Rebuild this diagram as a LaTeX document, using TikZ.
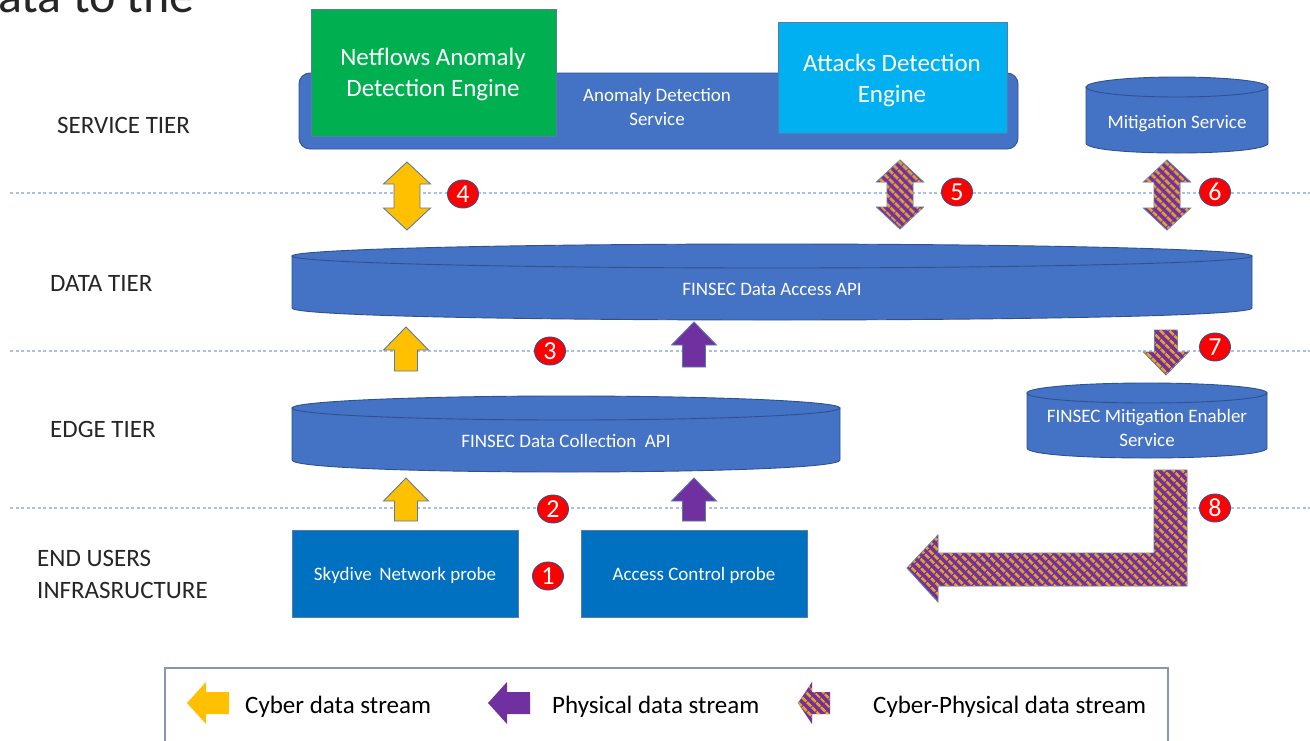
\documentclass[tikz,border=0pt]{standalone}
\usepackage{fontspec}
\setmainfont{Carlito}
\usetikzlibrary{shapes.geometric,patterns.meta}
\definecolor{svcblue}{HTML}{4472C4}
\definecolor{cylborder}{HTML}{2F528F}
\definecolor{grn}{HTML}{00B050}
\definecolor{cyan2}{HTML}{00B0F0}
\definecolor{probe}{HTML}{0070C0}
\definecolor{yel}{HTML}{FFC000}
\definecolor{purp}{HTML}{7030A0}
\definecolor{orng}{HTML}{E9A21C}
\definecolor{arrborder}{HTML}{5A7BA8}
\definecolor{dotblue}{HTML}{A9C0E6}
\definecolor{labelgray}{HTML}{262626}
\definecolor{legborder}{HTML}{8497B0}
\definecolor{badgered}{HTML}{FF0000}
\newcommand\FBig{\fontsize{25}{31}\selectfont}
\newcommand\FSmall{\fontsize{19}{24}\selectfont}
\newcommand\CylShape[5]{% x1, y1(top), x2, y2(bottom), ry
  \path[cylbody] (#1,{#2+#5}) -- (#1,{#4-#5}) .. controls (#1,{#4+#5/3}) and (#3,{#4+#5/3}) .. (#3,{#4-#5}) -- (#3,{#2+#5}) -- cycle;
  \path[cylbody] ({(#1+#3)/2},{#2+#5}) ellipse [x radius={(#3-#1)/2}, y radius=#5];
}
\newcommand\DArrow[4]{% style, cx, ytop, ybot
  \path[#1] (#2,#3) -- (#2+23.5,#3+22) -- (#2+13,#3+22) -- (#2+13,#4-22) -- (#2+23.5,#4-22) -- (#2,#4)
    -- (#2-23.5,#4-22) -- (#2-13,#4-22) -- (#2-13,#3+22) -- (#2-23.5,#3+22) -- cycle;
}
\newcommand\UArrow[4]{% style, cx, ytip, ybot
  \path[#1] (#2,#3) -- (#2+22.5,#3+23) -- (#2+11.5,#3+23) -- (#2+11.5,#4) -- (#2-11.5,#4) -- (#2-11.5,#3+23) -- (#2-22.5,#3+23) -- cycle;
}
\newcommand\DnArrow[4]{% style, cx, ytop, ytip
  \path[#1] (#2,#4) -- (#2+22.5,#4-23) -- (#2+11.5,#4-23) -- (#2+11.5,#3) -- (#2-11.5,#3) -- (#2-11.5,#4-23) -- (#2-22.5,#4-23) -- cycle;
}
\newcommand\LArrow[7]{% style, xtip, xend, cy, headlen, halfhead, halfshaft
  \path[#1] (#2,#4) -- (#2+#5,#4-#6) -- (#2+#5,#4-#7) -- (#3,#4-#7) -- (#3,#4+#7) -- (#2+#5,#4+#7) -- (#2+#5,#4+#6) -- cycle;
}
\tikzset{
  cylbody/.style={fill=svcblue, draw=cylborder, line width=0.9pt},
  tierlabel/.style={font=\FBig, text=labelgray, anchor=west, align=left, inner sep=0pt},
  whitetext/.style={text=white, align=center, inner sep=0pt},
  boxstyle/.style={draw=arrborder, line width=0.8pt, inner sep=0pt},
  dotline/.style={draw=dotblue, line width=1.2pt, dash pattern=on 3pt off 2.5pt},
  yelarrow/.style={fill=yel, draw=arrborder, line width=0.9pt},
  purarrow/.style={fill=purp, draw=arrborder, line width=0.9pt},
  striparrow/.style={fill=purp, draw=arrborder, line width=0.9pt,
    postaction={pattern={Lines[angle=-45,distance=6.5pt,line width=2.8pt]}, pattern color=orng}},
  badge/.style={ellipse, fill=badgered, draw=cylborder, line width=0.9pt, minimum width=31pt, minimum height=28pt,
    inner sep=0pt, text=white, font=\fontsize{26}{26}\selectfont},
  legtext/.style={font=\FBig, text=black, anchor=west, inner sep=0pt},
}
\begin{document}
\begin{tikzpicture}[x=1pt,y=-1pt]
\useasboundingbox (0,0) rectangle (1310,740);
\fill[white] (0,0) rectangle (1310,740);

% cut-off heading text
\node[font=\fontsize{50}{50}\selectfont, text=labelgray, anchor=base west, inner sep=0pt] (head) at (-2,12) {ata to the};

% tier separators
\draw[dotline] (10,193) -- (1310,193);
\draw[dotline] (10,351) -- (1310,351);
\draw[dotline] (10,508) -- (1310,508);

% tier labels
\node[tierlabel] (tService) at (57,125) {SERVICE TIER};
\node[tierlabel] (tData) at (50,283) {DATA TIER};
\node[tierlabel] (tEdge) at (50,429) {EDGE TIER};
\node[tierlabel] (tEnd) at (37,574) {END USERS\\[1pt]INFRASRUCTURE};

% service tier
\node[fill=svcblue, draw=cylborder, line width=0.9pt, rounded corners=11pt, minimum width=719pt, minimum height=76pt, inner sep=0pt] (ads) at (658.5,111) {};
\node[whitetext, font=\FSmall] (adsText) at (657,107) {Anomaly Detection\\Service};
\node[boxstyle, fill=grn, minimum width=245pt, minimum height=127pt] (netflows) at (433.5,72.5) {};
\node[whitetext, font=\FBig] (netflowsText) at (433,74) {Netflows Anomaly\\Detection Engine};
\node[boxstyle, fill=cyan2, minimum width=229pt, minimum height=111pt] (attacks) at (892.5,77.5) {};
\node[whitetext, font=\FBig] (attacksText) at (892,80) {Attacks Detection\\Engine};

\CylShape{1086}{77}{1268}{153}{10}
\node[whitetext, font=\FSmall] (mitig) at (1177,124) {Mitigation Service};

% data tier
\CylShape{292}{244}{1252}{320}{12}
\node[whitetext, font=\FSmall] (dataAccess) at (772,289) {FINSEC Data Access API};

% edge tier
\CylShape{292}{396}{840}{472}{12}
\node[whitetext, font=\FSmall] (dataColl) at (566,441) {FINSEC Data Collection\ \ API};

\CylShape{1027}{383}{1267}{458}{10}
\node[whitetext, font=\FSmall] (mitEnabler) at (1147,428) {FINSEC Mitigation Enabler\\Service};

% end users
\node[boxstyle, fill=probe, minimum width=226pt, minimum height=87pt] (skydive) at (405,573.5) {};
\node[whitetext, font=\FSmall] (skydiveText) at (405,575) {Skydive\ \,Network probe};
\node[boxstyle, fill=probe, minimum width=226pt, minimum height=87pt] (access) at (694,573.5) {};
\node[whitetext, font=\FSmall] (accessText) at (694,575) {Access Control probe};

% arrows
\DArrow{yelarrow}{407}{162}{230}
\DArrow{striparrow}{900}{160}{229}
\DArrow{striparrow}{1167}{160}{230}
\UArrow{yelarrow}{406}{327}{371}
\UArrow{purarrow}{694}{322}{367}
\UArrow{yelarrow}{406}{478}{521}
\UArrow{purarrow}{694}{478}{521}
\DnArrow{striparrow}{1166}{330}{375}
\path[striparrow] (1187,470) -- (1187,586) -- (938,586) -- (938,602) -- (907,568) -- (938,535) -- (938,553) -- (1154,553) -- (1154,470) -- cycle;

% badges
\node[badge] (b1) at (548,576) {1};
\node[badge] (b2) at (553,509) {2};
\node[badge] (b3) at (550,351) {3};
\node[badge] (b4) at (463,194) {4};
\node[badge] (b5) at (957,192) {5};
\node[badge] (b6) at (1215,192) {6};
\node[badge] (b7) at (1215,347) {7};
\node[badge] (b8) at (1215,508) {8};

% legend
\draw[draw=legborder, line width=1.6pt] (165,668) rectangle (1168,760);
\LArrow{fill=yel}{187}{229}{703}{19}{21}{11}
\node[legtext] (leg1) at (245,707) {Cyber data stream};
\LArrow{fill=purp}{488}{530}{703}{19}{21}{11}
\node[legtext] (leg2) at (552,707) {Physical data stream};
\LArrow{fill=purp, postaction={pattern={Lines[angle=-45,distance=6.5pt,line width=2.8pt]}, pattern color=orng}}{798}{830}{703}{14}{21}{11}
\node[legtext] (leg3) at (873,707) {Cyber-Physical data stream};
\end{tikzpicture}
\end{document}
